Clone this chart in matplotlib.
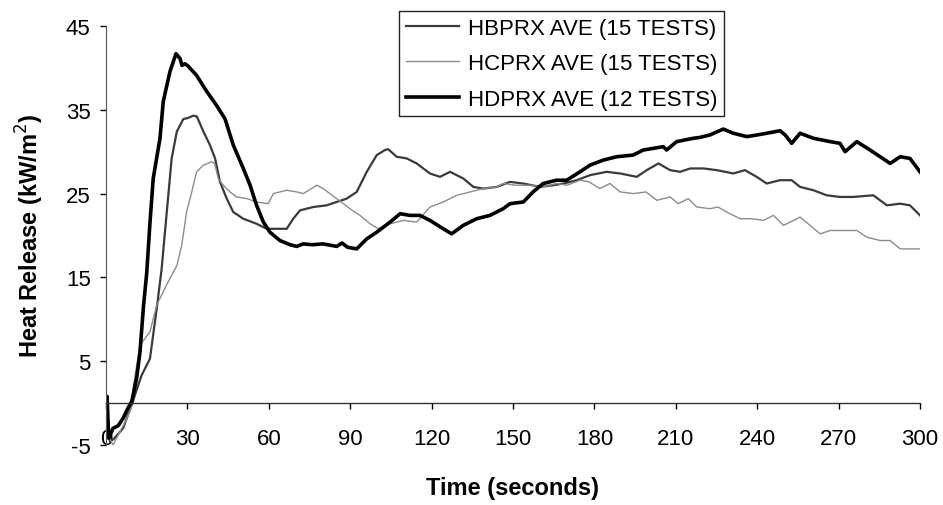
import matplotlib
matplotlib.use("Agg")
from matplotlib import pyplot as plt

plt.rcParams['font.family'] = ['Liberation Sans', 'DejaVu Sans']
plt.rcParams['axes.unicode_minus'] = False

# values
t_hb = [0, 1.5, 3.1, 6.3, 8.1, 9.5, 11.0, 13.1, 16.2, 18.7,
        20.5, 22.4, 24.2, 26.1, 28.5, 30, 32.2, 33.5, 35.9, 38.3,
        40.2, 42, 44.5, 46.9, 50.6, 55.5, 59.2, 64.1, 66.6, 69,
        71.5, 76.4, 81.3, 85, 88.7, 92.4, 96.1, 99.8, 102.8, 104,
        107.1, 110.8, 114.5, 119.4, 123.1, 126.8, 131.7, 135.4, 139.1, 144,
        148.9, 153.8, 160, 164.9, 168.6, 173.5, 178.4, 184.5, 189.5, 195.6,
        199.3, 203.6, 207.9, 211.6, 215.3, 220.2, 225.1, 231.2, 235.5, 239.8,
        243.5, 248.4, 252.7, 255.8, 260.7, 265.6, 270.5, 275.4, 282.8, 287.8,
        292.7, 296.3, 300]
v_hb = [-2.5, -4.6, -4.2, -3.0, -1.4, -0.2, 1.3, 3.3, 5.3, 11.3,
        16, 22.8, 29.2, 32.4, 33.9, 34.0, 34.3, 34.2, 32.4, 30.8,
        29.2, 26.4, 24.4, 22.8, 22.0, 21.4, 20.8, 20.8, 20.8, 22.0,
        23.0, 23.4, 23.6, 24.0, 24.4, 25.2, 27.6, 29.6, 30.2, 30.3,
        29.4, 29.2, 28.6, 27.4, 27.0, 27.6, 26.8, 25.8, 25.6, 25.8,
        26.4, 26.2, 25.8, 26.0, 26.2, 26.6, 27.2, 27.6, 27.4, 27.0,
        27.8, 28.6, 27.8, 27.6, 28.0, 28.0, 27.8, 27.4, 27.8, 27.0,
        26.2, 26.6, 26.6, 25.8, 25.4, 24.8, 24.6, 24.6, 24.8, 23.6,
        23.8, 23.6, 22.4]

t_hc = [0, 1, 2.6, 5, 7.5, 9.3, 10.1, 12.5, 16.2, 18.7,
        21.1, 23.6, 26.1, 27.9, 29.7, 31.6, 33.4, 35.9, 37.5, 39,
        40, 41.4, 43.2, 45.7, 48.2, 51.9, 55.5, 59.8, 61.7, 66.6,
        70.3, 72.7, 77.7, 80, 85, 89.9, 93.6, 97.3, 100.4, 104.7,
        109.6, 114.5, 119.4, 124.3, 129.3, 134.2, 139.1, 144, 146.4, 151,
        156.3, 161, 166.1, 170, 174.7, 178, 182, 185.7, 189.5, 194.4,
        199, 203, 207.9, 210.9, 214.6, 217.7, 222.6, 225.5, 228.8, 233.7,
        238, 242.3, 246, 249.7, 255.8, 259.5, 263.2, 266.9, 271.5, 276.7,
        280.4, 285.3, 289, 292.7, 300]
v_hc = [-1.5, -4.0, -5.0, -3.5, -2.0, -0.5, 2.0, 6.9, 8.5, 11.7,
        13.3, 14.9, 16.4, 18.8, 22.8, 25.2, 27.6, 28.4, 28.6, 28.8,
        28.6, 26.8, 26.0, 25.2, 24.6, 24.4, 24.0, 23.8, 25.0, 25.4,
        25.2, 25.0, 26.0, 25.6, 24.4, 23.2, 22.4, 21.4, 20.8, 21.4,
        21.8, 21.6, 23.4, 24.0, 24.8, 25.2, 25.6, 25.8, 26.2, 26.0,
        26.0, 25.8, 26.2, 26.0, 26.6, 26.4, 25.6, 26.2, 25.2, 25.0,
        25.2, 24.2, 24.6, 23.8, 24.4, 23.4, 23.2, 23.4, 22.8, 22.0,
        22.0, 21.8, 22.4, 21.2, 22.2, 21.2, 20.2, 20.6, 20.6, 20.6,
        19.8, 19.4, 19.4, 18.4, 18.4]

t_hd = [0, 0.4, 1.0, 2.6, 4.5, 6.3, 8.1, 9.5, 11.3, 12.5,
        13.8, 15, 16.2, 17.4, 19.9, 21.1, 23.6, 25.8, 27.3, 28,
        29.1, 30.3, 33.4, 37.1, 40.8, 43.9, 46.9, 50.6, 53.1, 55.5,
        58, 60.4, 64.1, 67.8, 70.3, 72.7, 76, 80, 85, 87,
        89, 92.4, 96.1, 99.8, 104.7, 108.4, 112, 115.7, 119.4, 124.3,
        127.4, 131.6, 136.6, 141.5, 146.4, 148.9, 153.8, 157.4, 161.1, 166.1,
        169.8, 174.7, 178.4, 183.3, 188.2, 194.3, 198, 205.4, 206.6, 210.3,
        216.4, 218.8, 222.6, 227.5, 231.2, 236.2, 240, 243.5, 248.4, 250.3,
        252.7, 255.8, 260.7, 266.9, 270.5, 272.4, 276.7, 281.6, 285.3, 289,
        292.7, 296.3, 300]
v_hd = [-1.5, 0.8, -4.2, -3.0, -2.7, -1.8, -0.6, 0.2, 3.0, 6.0,
        11.5, 15.5, 21.5, 26.8, 31.6, 36.0, 39.6, 41.7, 41.1, 40.3,
        40.5, 40.2, 39.1, 37.2, 35.5, 33.9, 30.8, 28.0, 26.0, 23.6,
        21.6, 20.4, 19.4, 18.9, 18.7, 19.0, 18.9, 19.0, 18.7, 19.1,
        18.6, 18.4, 19.6, 20.4, 21.6, 22.6, 22.4, 22.4, 21.8, 20.8,
        20.2, 21.2, 22.0, 22.4, 23.2, 23.8, 24.0, 25.2, 26.2, 26.6,
        26.6, 27.6, 28.4, 29.0, 29.4, 29.6, 30.2, 30.6, 30.2, 31.2,
        31.6, 31.7, 32.0, 32.7, 32.2, 31.8, 32.0, 32.2, 32.5, 32.0,
        31.0, 32.2, 31.6, 31.2, 31.0, 30.0, 31.2, 30.2, 29.4, 28.6,
        29.4, 29.2, 27.6]

labels = ["HBPRX AVE (15 TESTS)", "HCPRX AVE (15 TESTS)", "HDPRX AVE (12 TESTS)"]
x_ticks = list(range(0, 301, 30))
y_ticks = list(range(-5, 46, 10))

fig = plt.figure(figsize=(9.43, 5.06), dpi=100)
ax = fig.add_axes([106 / 943, 1 - 446 / 506, 814 / 943, 419 / 506])

ax.plot(t_hb, v_hb, color="#3a3a3a", lw=1.6, label=labels[0])
ax.plot(t_hc, v_hc, color="#8c8c8c", lw=1.0, label=labels[1])
ax.plot(t_hd, v_hd, color="black", lw=2.6, label=labels[2])

ax.set_xlim(0, 300)
ax.set_ylim(-5, 45)
ax.set_xticks(x_ticks)
ax.set_yticks(y_ticks)

ax.spines['top'].set_visible(False)
ax.spines['right'].set_visible(False)
ax.spines['bottom'].set_position(('data', 0))
ax.spines['bottom'].set_color("#333333")
ax.spines['left'].set_color("#555555")
ax.spines['bottom'].set_linewidth(1.0)
ax.spines['left'].set_linewidth(0.8)

ax.tick_params(axis='x', direction='out', length=4, width=1, pad=14,
               labelsize=16)
ax.tick_params(axis='y', direction='out', length=4, width=1, pad=7,
               labelsize=16)

# axis titles placed where the reference has them
fig.text(513 / 943, 1 - 489 / 506, "Time (seconds)", fontsize=17,
         fontweight='bold', ha='center', va='center')
fig.text(30 / 943, 1 - 236 / 506, "Heat Release (kW/m$^2$)", fontsize=17,
         fontweight='bold', ha='center', va='center', rotation=90)

leg = ax.legend(loc='upper left', bbox_to_anchor=(399 / 943, 1 - 12 / 506),
                bbox_transform=fig.transFigure, fontsize=16, frameon=True,
                fancybox=False, edgecolor="#222222", framealpha=1,
                borderaxespad=0, handlelength=2.4, handletextpad=0.4,
                labelspacing=0.65, borderpad=0.3)
leg.get_frame().set_linewidth(1.0)

fig.savefig("out.png", dpi=100)
